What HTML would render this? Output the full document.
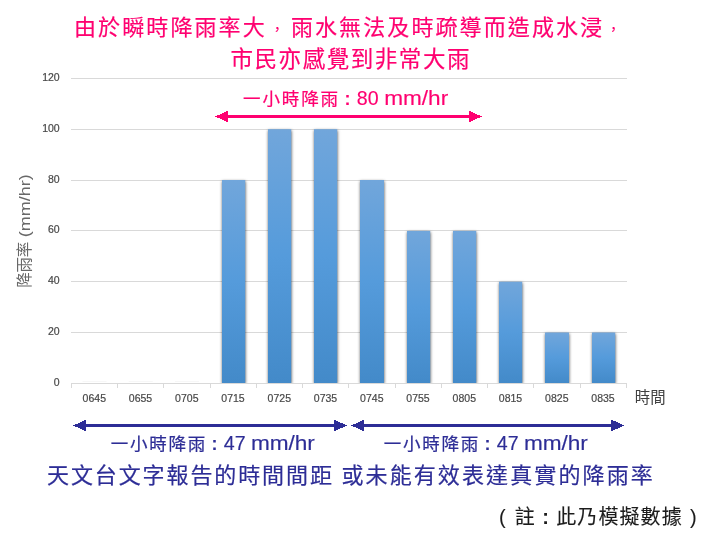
<!DOCTYPE html>
<html lang="zh-Hant">
<head>
<meta charset="utf-8">
<title>降雨率</title>
<style>
html,body{margin:0;padding:0;background:#fff;}
body{width:702px;height:550px;overflow:hidden;position:relative;}
svg{position:absolute;left:0;top:0;display:block;}
text{font-family:"Liberation Sans","Noto Sans CJK TC",sans-serif;}
.m{font-weight:400;stroke-width:0.2px;stroke-linejoin:round;}
.pink.m,.pink .m{stroke:#ff0070;}
.navy.m,.navy .m{stroke:#2d2d96;}
.lt{font-weight:400;stroke-width:0.15px;}
.pink .lt{stroke:#ff0070;}
.navy .lt{stroke:#2d2d96;}
.ax{font-size:10.5px;fill:#484848;stroke:#484848;stroke-width:0.2px;}
.pink{fill:#ff0070;}
.navy{fill:#2d2d96;}
</style>
</head>
<body>
<svg width="702" height="550" viewBox="0 0 702 550">
<defs>
<linearGradient id="bar" x1="0" y1="0" x2="0" y2="1">
<stop offset="0" stop-color="#71a6db"/>
<stop offset="0.5" stop-color="#559bdb"/>
<stop offset="1" stop-color="#438ac9"/>
</linearGradient>
<filter id="sh" x="-30%" y="-5%" width="160%" height="110%" color-interpolation-filters="sRGB">
<feDropShadow dx="0.25" dy="1.2" stdDeviation="1.4" flood-color="#000" flood-opacity="0.65"/>
</filter>
<clipPath id="cp"><rect x="60" y="70" width="580" height="313"/></clipPath>
</defs>
<rect width="702" height="550" fill="#fff"/>
<!-- gridlines -->
<g stroke="#d9d9d9" stroke-width="1" shape-rendering="crispEdges">
<line x1="71" x2="627" y1="78.5" y2="78.5"/>
<line x1="71" x2="627" y1="129.5" y2="129.5"/>
<line x1="71" x2="627" y1="180.5" y2="180.5"/>
<line x1="71" x2="627" y1="230.5" y2="230.5"/>
<line x1="71" x2="627" y1="281.5" y2="281.5"/>
<line x1="71" x2="627" y1="332.5" y2="332.5"/>
<line x1="71" x2="627" y1="383.5" y2="383.5"/>
<path d="M71.5 383v5M117.5 383v5M163.5 383v5M210.5 383v5M256.5 383v5M302.5 383v5M348.5 383v5M395.5 383v5M441.5 383v5M487.5 383v5M533.5 383v5M580.5 383v5M626.5 383v5" fill="none"/>
</g>
<!-- bars -->
<g fill="#f7f7f7">
<rect x="82.5" y="381" width="24" height="1"/>
<rect x="128.7" y="381" width="24" height="1"/>
<rect x="175" y="381" width="24" height="1"/>
</g>
<g clip-path="url(#cp)"><g fill="url(#bar)" filter="url(#sh)">
<rect x="222" y="180.0" width="23.2" height="203.0"/>
<rect x="268" y="129.2" width="23.2" height="253.8"/>
<rect x="314" y="129.2" width="23.2" height="253.8"/>
<rect x="360" y="180.0" width="24" height="203.0"/>
<rect x="407" y="230.9" width="23.2" height="152.1"/>
<rect x="453" y="230.9" width="23.2" height="152.1"/>
<rect x="499" y="281.7" width="23.2" height="101.3"/>
<rect x="545" y="332.5" width="24" height="50.5"/>
<rect x="592" y="332.5" width="23.2" height="50.5"/>
</g></g>
<!-- y labels -->
<g class="ax" text-anchor="end">
<text x="59.7" y="81.1">120</text>
<text x="59.7" y="132.1">100</text>
<text x="59.7" y="183.1">80</text>
<text x="59.7" y="233.1">60</text>
<text x="59.7" y="284.1">40</text>
<text x="59.7" y="335.1">20</text>
<text x="59.7" y="386.1">0</text>
</g>
<!-- x labels -->
<g class="ax" text-anchor="middle">
<text x="94.3" y="401.8">0645</text>
<text x="140.5" y="401.8">0655</text>
<text x="186.8" y="401.8">0705</text>
<text x="233" y="401.8">0715</text>
<text x="279.3" y="401.8">0725</text>
<text x="325.5" y="401.8">0735</text>
<text x="371.8" y="401.8">0745</text>
<text x="418" y="401.8">0755</text>
<text x="464.3" y="401.8">0805</text>
<text x="510.5" y="401.8">0815</text>
<text x="556.8" y="401.8">0825</text>
<text x="603" y="401.8">0835</text>
</g>
<text x="634.8" y="403" font-size="15.4" fill="#404040">時間</text>
<g transform="translate(29.7 0) rotate(-90)" fill="#686868">
<text x="-287.8" y="0" font-size="15.5" textLength="46" lengthAdjust="spacing">降雨率</text>
<text x="-237.3" y="0" font-size="14.5" textLength="63" lengthAdjust="spacingAndGlyphs">(mm/hr)</text>
</g>
<!-- title -->
<g class="pink m" font-size="22" style="letter-spacing:2.1px">
<text x="74" y="34.8">由於瞬時降雨率大</text>
<text x="270.3" y="33.5" font-size="14">，</text>
<text x="290.9" y="34.8">雨水無法及時疏導而造成水浸</text>
<text x="606.5" y="33.5" font-size="14">，</text>
</g>
<text class="pink m" x="230.5" y="66.8" font-size="22.5" style="letter-spacing:1.55px">市民亦感覺到非常大雨</text>
<!-- pink arrow -->
<g class="pink m" font-size="17.5" style="stroke-width:0.22px">
<text x="243" y="104.5" textLength="95" lengthAdjust="spacing">一小時降雨</text>
<text x="344.6" y="104.5" font-size="18" font-weight="700" stroke="none">:</text>
<text x="356.8" y="104.5" class="lt" font-size="19.3" textLength="21.8" lengthAdjust="spacingAndGlyphs">80</text>
<text x="384.2" y="104.5" class="lt" font-size="19.3" textLength="64" lengthAdjust="spacingAndGlyphs">mm/hr</text>
</g>
<g fill="#ff0070" shape-rendering="crispEdges">
<rect x="226" y="115" width="245" height="3"/>
<path d="M215.2 116.5L228.0 110.6V122.4z"/>
<path d="M481.8 116.5L469.0 110.6V122.4z"/>
</g>
<!-- navy arrows -->
<g fill="#2d2d96" shape-rendering="crispEdges">
<rect x="84" y="424" width="252" height="3"/>
<path d="M73.2 425.5L86.0 419.6V431.4z"/>
<path d="M347.2 425.5L333.6 419.6V431.4z"/>
<rect x="362" y="424" width="252" height="3"/>
<path d="M351.2 425.5L364.0 419.6V431.4z"/>
<path d="M624.2 425.5L611.4 419.6V431.4z"/>
</g>
<g class="navy m" font-size="17.5" style="stroke-width:0.22px">
<text x="110.7" y="450.2" textLength="94.5" lengthAdjust="spacing">一小時降雨</text>
<text x="211.5" y="450.2" font-size="18" font-weight="700" stroke="none">:</text>
<text x="223.8" y="450.2" class="lt" font-size="19.3" textLength="21.8" lengthAdjust="spacingAndGlyphs">47</text>
<text x="250.9" y="450.2" class="lt" font-size="19.3" textLength="64" lengthAdjust="spacingAndGlyphs">mm/hr</text>
<text x="383.7" y="450.2" textLength="94.5" lengthAdjust="spacing">一小時降雨</text>
<text x="484.5" y="450.2" font-size="18" font-weight="700" stroke="none">:</text>
<text x="496.8" y="450.2" class="lt" font-size="19.3" textLength="21.8" lengthAdjust="spacingAndGlyphs">47</text>
<text x="523.9" y="450.2" class="lt" font-size="19.3" textLength="64" lengthAdjust="spacingAndGlyphs">mm/hr</text>
</g>
<g class="navy m" font-size="22" style="letter-spacing:1.9px">
<text x="47" y="483.3">天文台文字報告的時間間距</text>
<text x="341.4" y="483.3" style="letter-spacing:2.12px">或未能有效表達真實的降雨率</text>
</g>
<g class="m" font-size="20" fill="#1c1c1c" stroke="#1c1c1c" style="stroke-width:0.1px">
<text x="499" y="524.2" font-weight="400">(</text>
<text x="514.7" y="524.2">註</text>
<text x="542.3" y="524.2" font-weight="700" stroke="none">:</text>
<text x="556.2" y="524.2" style="letter-spacing:1.1px">此乃模擬數據</text>
<text x="690" y="524.2" font-weight="400">)</text>
</g>
</svg>
</body>
</html>
